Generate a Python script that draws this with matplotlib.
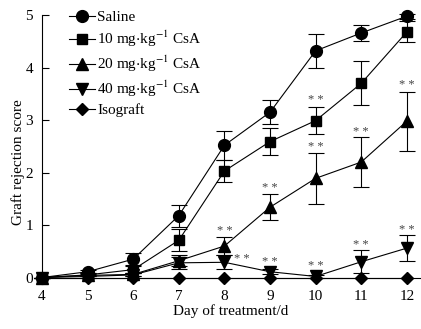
import numpy as np
import matplotlib
matplotlib.use('Agg')
import matplotlib.pyplot as plt
from matplotlib.lines import Line2D

plt.rcParams['font.family'] = ['Liberation Serif', 'DejaVu Serif']
plt.rcParams['mathtext.fontset'] = 'stix'

days = [4, 5, 6, 7, 8, 9, 10, 11, 12]

saline = [0, 0.11, 0.35, 1.18, 2.52, 3.15, 4.32, 4.66, 4.98]
saline_err = [0, 0.03, 0.11, 0.21, 0.28, 0.23, 0.33, 0.16, 0.05]

csa10 = [0, 0.05, 0.15, 0.71, 2.03, 2.59, 2.99, 3.70, 4.68]
csa10_err = [0, 0.03, 0.06, 0.21, 0.21, 0.25, 0.25, 0.42, 0.2]

csa20 = [0, 0.04, 0.06, 0.32, 0.60, 1.34, 1.89, 2.2, 2.98]
csa20_err = [0, 0.02, 0.03, 0.1, 0.17, 0.25, 0.48, 0.47, 0.56]

csa40 = [0, 0.02, 0.05, 0.28, 0.29, 0.11, 0.02, 0.30, 0.56]
csa40_err = [0, 0.02, 0.03, 0.12, 0.13, 0.05, 0.02, 0.22, 0.25]

isograft = [0, 0, 0, 0, 0, 0, 0, 0, 0]

# significance marks "**"
stars_x = [10, 8, 9, 10, 11, 12, 8.38, 9, 10, 11, 12]
stars_y = [3.38, 0.88, 1.70, 2.49, 2.78, 3.67, 0.35, 0.30, 0.21, 0.62, 0.90]

series = [
    ('Saline', saline, saline_err, 'o', 8.5),
    ('10 mg$\\cdot$kg$^{-1}$ CsA', csa10, csa10_err, 's', 7.5),
    ('20 mg$\\cdot$kg$^{-1}$ CsA', csa20, csa20_err, '^', 8.5),
    ('40 mg$\\cdot$kg$^{-1}$ CsA', csa40, csa40_err, 'v', 8.5),
    ('Isograft', isograft, None, 'D', 6.5),
]

fig = plt.figure(figsize=(4.21, 3.29), dpi=100)
ax = fig.add_axes([0.0998, 0.1565, 0.898, 0.7975])

handles = []
for lbl, vals, err, mk, ms in series:
    ax.errorbar(days, vals, yerr=err, color='k', marker=mk, ms=ms, lw=0.8,
                elinewidth=0.8, capsize=5.5, capthick=0.8, clip_on=False)
    handles.append(Line2D([], [], color='k', marker=mk, ms=ms, lw=0.8, label=lbl))

for x, y in zip(stars_x, stars_y):
    ax.text(x, y, '* *', ha='center', va='center', fontsize=9, color='#444444')

ax.set_xlim(4, 12.29)
ax.set_ylim(0, 5)
ax.set_xticks(days)
ax.set_yticks([0, 1, 2, 3, 4, 5])
ax.spines['top'].set_visible(False)
ax.spines['right'].set_visible(False)
ax.tick_params(axis='y', direction='in', length=5, labelsize=11, pad=6.5)
ax.tick_params(axis='x', length=0, labelsize=11, pad=9)
ax.set_xlabel('Day of treatment/d', fontsize=11, labelpad=1)
ax.set_ylabel('Graft rejection score', fontsize=11)
ax.yaxis.set_label_coords(-0.045, 0.44)

ax.legend(handles=handles, loc='upper left', bbox_to_anchor=(0.055, 1.04),
          frameon=False, fontsize=11, handlelength=1.7, handletextpad=0.15,
          labelspacing=0.3, borderaxespad=0)

fig.savefig('out.png', dpi=100)
